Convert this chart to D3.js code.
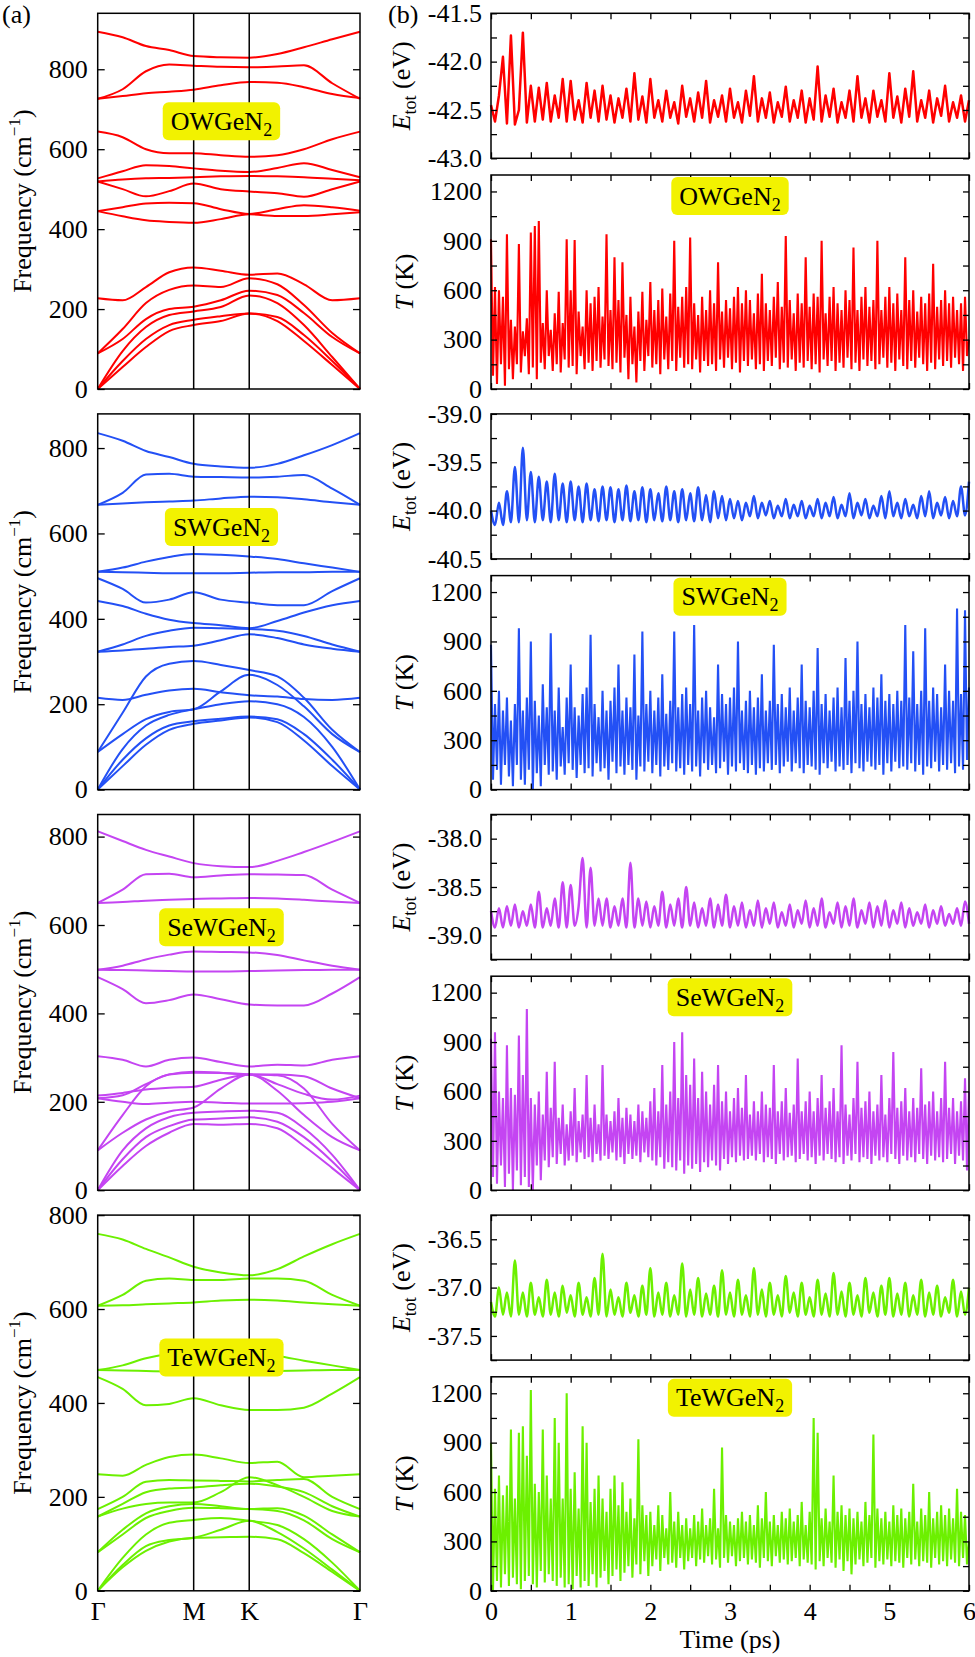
<!DOCTYPE html>
<html>
<head>
<meta charset="utf-8">
<script src="https://cdn.jsdelivr.net/npm/d3@7"></script>
<style>
  body { margin: 0; background: #fff; }
  svg { display: block; background: #fff; font-family: "Liberation Serif", "Times New Roman", Times, serif; }
</style>
</head>
<body>
<svg id="fig" width="975" height="1657"></svg>
<script>
// ============================================================
//  Phonon bands (a) and AIMD runs (b) for XWGeN2 monolayers
// ============================================================

// ---- materials ----
const materials = ['OWGeN', 'SWGeN', 'SeWGeN', 'TeWGeN'];
const colors = ['#ff0000', '#2350f5', '#c445f2', '#6cf000'];

// ---- (a) phonon dispersion, path Γ-M-K-Γ ----
const kNodes = [0, 0.577, 0.911, 1.577];
const kLabels = ['Γ', 'M', 'K', 'Γ'];
const kPath = [0, 0.15, 0.29, 0.43, 0.577, 0.74, 0.911, 1.08, 1.24, 1.41, 1.577];
const freqMax = [940, 880, 850, 800];
const freqTicks = [0, 200, 400, 600, 800];
const labelFreq = [670, 615, 595, 497];   // where the name tag sits

const bandsOW = [
  [894, 880, 858, 848, 833, 830, 829, 838, 855, 875, 894],
  [726, 750, 795, 812, 809, 806, 805, 807, 810, 765, 726],
  [726, 733, 740, 744, 749, 760, 768, 766, 755, 738, 728],
  [644, 630, 600, 590, 590, 585, 581, 585, 600, 625, 644],
  [527, 545, 560, 558, 552, 546, 543, 553, 565, 548, 530],
  [519, 524, 527, 528, 530, 532, 533, 532, 530, 526, 522],
  [519, 500, 482, 495, 514, 500, 494, 490, 481, 500, 519],
  [445, 455, 464, 466, 465, 450, 438, 450, 460, 455, 446],
  [445, 432, 422, 418, 416, 425, 437, 433, 433, 437, 442],
  [227, 222, 255, 292, 304, 296, 286, 289, 262, 222, 227],
  [89, 150, 215, 248, 259, 255, 277, 262, 210, 140, 89],
  [89, 125, 175, 200, 206, 222, 246, 235, 190, 130, 89],
  [0, 95, 155, 185, 194, 205, 234, 215, 160, 80, 0],
  [0, 70, 125, 160, 173, 182, 189, 180, 135, 70, 0],
  [0, 55, 105, 145, 160, 170, 189, 170, 120, 60, 0]
];
const bandsSW = [
  [835, 817, 793, 779, 763, 757, 754, 763, 783, 807, 835],
  [667, 695, 738, 740, 733, 732, 731, 733, 737, 705, 667],
  [667, 670, 673, 675, 677, 682, 686, 685, 680, 673, 667],
  [510, 520, 534, 545, 552, 550, 546, 540, 530, 520, 510],
  [510, 509, 508, 507, 507, 507, 508, 509, 509, 510, 510],
  [495, 470, 438, 445, 462, 445, 438, 432, 432, 465, 495],
  [442, 430, 412, 398, 390, 385, 378, 395, 415, 432, 442],
  [323, 340, 360, 372, 379, 378, 376, 372, 360, 340, 323],
  [323, 326, 330, 334, 337, 350, 364, 355, 340, 330, 323],
  [88, 180, 265, 295, 301, 292, 280, 265, 215, 140, 88],
  [215, 210, 222, 232, 236, 228, 221, 218, 212, 210, 215],
  [88, 130, 165, 182, 188, 230, 269, 245, 195, 130, 88],
  [0, 95, 150, 175, 188, 200, 207, 200, 170, 100, 0],
  [0, 70, 120, 150, 160, 166, 171, 165, 130, 70, 0],
  [0, 55, 105, 140, 154, 162, 169, 158, 115, 55, 0]
];
const bandsSeW = [
  [812, 790, 770, 755, 740, 733, 731, 745, 765, 788, 812],
  [650, 680, 715, 716, 708, 712, 715, 714, 713, 680, 650],
  [650, 652, 655, 657, 659, 660, 661, 660, 657, 653, 650],
  [499, 508, 522, 533, 540, 539, 538, 532, 520, 508, 499],
  [499, 498, 497, 496, 495, 495, 496, 497, 498, 499, 499],
  [482, 455, 423, 430, 443, 432, 420, 418, 418, 445, 482],
  [303, 295, 280, 295, 300, 290, 280, 284, 282, 295, 303],
  [208, 215, 240, 262, 266, 265, 262, 262, 258, 230, 208],
  [90, 170, 235, 262, 268, 266, 262, 260, 230, 150, 90],
  [214, 220, 228, 232, 234, 250, 262, 240, 218, 205, 214],
  [208, 200, 195, 198, 200, 198, 196, 196, 197, 200, 208],
  [90, 130, 160, 178, 187, 230, 262, 225, 170, 120, 90],
  [0, 90, 140, 165, 175, 178, 180, 175, 140, 80, 0],
  [0, 70, 120, 145, 160, 162, 165, 155, 120, 65, 0],
  [0, 55, 100, 130, 150, 148, 150, 140, 100, 50, 0]
];
const bandsTeW = [
  [760, 748, 728, 710, 690, 678, 672, 685, 712, 738, 760],
  [607, 630, 660, 665, 662, 662, 665, 665, 660, 630, 607],
  [607, 608, 610, 612, 614, 618, 620, 618, 614, 610, 607],
  [470, 480, 495, 505, 510, 508, 505, 500, 490, 480, 470],
  [470, 469, 468, 467, 466, 466, 467, 468, 469, 470, 470],
  [455, 430, 395, 398, 410, 395, 385, 385, 390, 420, 455],
  [248, 245, 268, 285, 290, 282, 272, 275, 242, 245, 248],
  [174, 200, 232, 236, 235, 234, 233, 236, 238, 200, 174],
  [158, 185, 210, 218, 220, 225, 228, 222, 210, 180, 158],
  [158, 175, 185, 188, 188, 210, 242, 225, 200, 170, 158],
  [82, 130, 165, 180, 185, 180, 174, 176, 160, 120, 82],
  [82, 120, 155, 170, 177, 176, 174, 170, 150, 110, 82],
  [0, 70, 120, 145, 151, 155, 149, 140, 110, 60, 0],
  [0, 55, 95, 108, 113, 130, 149, 125, 90, 45, 0],
  [0, 50, 85, 105, 113, 114, 115, 110, 80, 40, 0]
];
const bands = [bandsOW, bandsSW, bandsSeW, bandsTeW];

// ---- (b) AIMD: total energy (eV, every 0.05 ps) ----
const eStep = 0.05;
const eDomains = [[-43.0, -41.5], [-40.5, -39.0], [-39.25, -37.75], [-37.75, -36.25]];
const eMajorTicks = [[-43.0, -42.5, -42.0, -41.5], [-40.5, -40.0, -39.5, -39.0], [-39.0, -38.5, -38.0], [-37.5, -37.0, -36.5]];

const energyOW = [
  -42.45, -42.62, -42.35, -41.95, -42.64, -41.73, -42.65, -42.50, -41.70, -42.63,
  -42.25, -42.62, -42.27, -42.60, -42.22, -42.62, -42.35, -42.58, -42.18, -42.62,
  -42.20, -42.60, -42.40, -42.63, -42.22, -42.58, -42.30, -42.62, -42.25, -42.60,
  -42.35, -42.63, -42.38, -42.58, -42.28, -42.62, -42.12, -42.60, -42.36, -42.63,
  -42.18, -42.58, -42.40, -42.62, -42.30, -42.58, -42.42, -42.64, -42.25, -42.57,
  -42.38, -42.62, -42.32, -42.58, -42.20, -42.63, -42.40, -42.57, -42.35, -42.62,
  -42.28, -42.58, -42.42, -42.63, -42.30, -42.56, -42.15, -42.62, -42.38, -42.58,
  -42.32, -42.63, -42.42, -42.57, -42.26, -42.62, -42.40, -42.58, -42.30, -42.63,
  -42.38, -42.60, -42.05, -42.62, -42.35, -42.57, -42.28, -42.63, -42.42, -42.58,
  -42.30, -42.62, -42.15, -42.58, -42.38, -42.63, -42.30, -42.57, -42.40, -42.62,
  -42.12, -42.58, -42.36, -42.63, -42.28, -42.57, -42.10, -42.62, -42.40, -42.58,
  -42.30, -42.63, -42.38, -42.56, -42.25, -42.62, -42.42, -42.58, -42.35, -42.62,
  -42.40
];
const energySW = [
  -40.00, -40.15, -39.92, -40.15, -39.80, -40.12, -39.55, -40.12, -39.35, -40.10,
  -39.60, -40.12, -39.65, -40.10, -39.70, -40.12, -39.62, -40.10, -39.72, -40.12,
  -39.70, -40.10, -39.75, -40.12, -39.72, -40.10, -39.78, -40.11, -39.75, -40.10,
  -39.76, -40.12, -39.78, -40.10, -39.74, -40.11, -39.80, -40.10, -39.76, -40.12,
  -39.78, -40.10, -39.82, -40.11, -39.75, -40.10, -39.80, -40.12, -39.78, -40.10,
  -39.82, -40.11, -39.76, -40.10, -39.84, -40.12, -39.80, -40.08, -39.85, -40.10,
  -39.88, -40.08, -39.90, -40.10, -39.92, -40.06, -39.85, -40.08, -39.92, -40.05,
  -39.90, -40.08, -39.95, -40.06, -39.88, -40.08, -39.94, -40.06, -39.90, -40.08,
  -39.95, -40.06, -39.88, -40.08, -39.92, -40.06, -39.86, -40.08, -39.94, -40.06,
  -39.82, -40.08, -39.92, -40.05, -39.88, -40.08, -39.95, -40.06, -39.85, -40.08,
  -39.80, -40.06, -39.92, -40.08, -39.88, -40.06, -39.94, -40.08, -39.85, -40.06,
  -39.80, -40.08, -39.92, -40.05, -39.86, -40.08, -39.90, -40.06, -39.75, -40.05,
  -39.70
];
const energySeW = [
  -38.75, -38.92, -38.72, -38.92, -38.70, -38.90, -38.68, -38.92, -38.75, -38.90,
  -38.68, -38.92, -38.55, -38.92, -38.72, -38.90, -38.62, -38.92, -38.45, -38.92,
  -38.48, -38.90, -38.70, -38.20, -38.92, -38.30, -38.90, -38.62, -38.90, -38.62,
  -38.92, -38.70, -38.90, -38.62, -38.92, -38.25, -38.92, -38.62, -38.90, -38.65,
  -38.92, -38.70, -38.90, -38.55, -38.92, -38.68, -38.90, -38.62, -38.92, -38.50,
  -38.90, -38.66, -38.92, -38.72, -38.90, -38.62, -38.92, -38.68, -38.90, -38.58,
  -38.92, -38.70, -38.90, -38.66, -38.92, -38.74, -38.90, -38.64, -38.92, -38.72,
  -38.88, -38.66, -38.92, -38.76, -38.90, -38.68, -38.92, -38.74, -38.88, -38.64,
  -38.92, -38.72, -38.90, -38.62, -38.92, -38.76, -38.88, -38.66, -38.92, -38.70,
  -38.90, -38.62, -38.92, -38.74, -38.88, -38.66, -38.92, -38.70, -38.90, -38.64,
  -38.92, -38.74, -38.88, -38.66, -38.92, -38.72, -38.90, -38.76, -38.88, -38.68,
  -38.92, -38.74, -38.88, -38.70, -38.90, -38.78, -38.88, -38.72, -38.90, -38.65,
  -38.88
];
const energyTeW = [
  -37.15, -37.30, -37.00, -37.28, -37.05, -37.30, -36.72, -37.28, -37.05, -37.30,
  -36.95, -37.28, -37.10, -37.30, -36.92, -37.28, -37.05, -37.30, -36.98, -37.26,
  -37.08, -37.30, -36.95, -37.28, -37.10, -37.30, -36.90, -37.28, -36.65, -37.30,
  -37.02, -37.28, -37.10, -37.30, -36.95, -37.26, -37.08, -37.30, -36.98, -37.28,
  -36.80, -37.30, -37.05, -37.28, -36.95, -37.30, -37.08, -37.28, -36.75, -37.30,
  -37.02, -37.28, -36.90, -37.30, -37.06, -37.28, -36.98, -37.30, -36.82, -37.28,
  -37.05, -37.30, -36.92, -37.28, -37.08, -37.30, -36.80, -37.28, -37.02, -37.30,
  -36.95, -37.28, -37.08, -37.30, -36.88, -37.26, -37.05, -37.30, -36.95, -37.28,
  -37.10, -37.30, -36.92, -37.28, -37.06, -37.30, -36.85, -37.28, -37.04, -37.30,
  -36.95, -37.28, -37.08, -37.30, -36.90, -37.26, -37.05, -37.30, -36.98, -37.28,
  -36.90, -37.30, -37.06, -37.28, -36.95, -37.30, -37.08, -37.28, -36.92, -37.30,
  -37.05, -37.28, -36.98, -37.30, -37.10, -37.26, -36.92, -37.30, -37.04, -37.28,
  -37.00
];
const energies = [energyOW, energySW, energySeW, energyTeW];

// ---- (b) AIMD: temperature (K, every 0.025 ps) ----
const tStep = 0.025;
const tempMax = 1300;
const tempTicks = [0, 300, 600, 900, 1200];
const timeTicks = [0, 1, 2, 3, 4, 5, 6];
const labelTemp = 1172;

const tempOW = [
  910, 80, 620, 30, 600, 150, 560, 20, 940, 120,
  420, 60, 380, 150, 880, 100, 350, 200, 430, 90,
  950, 130, 990, 60, 1020, 160, 400, 120, 600, 200,
  360, 110, 460, 150, 590, 100, 400, 180, 910, 130,
  600, 140, 905, 90, 470, 200, 380, 120, 600, 160,
  520, 110, 560, 170, 620, 130, 440, 180, 940, 140,
  480, 120, 800, 160, 540, 100, 770, 190, 450, 60,
  560, 150, 380, 40, 470, 170, 590, 110, 420, 200,
  650, 130, 480, 150, 540, 90, 610, 180, 440, 120,
  580, 170, 900, 110, 500, 190, 560, 130, 620, 150,
  920, 120, 520, 180, 450, 100, 560, 170, 480, 140,
  600, 150, 520, 110, 770, 180, 470, 130, 540, 190,
  490, 120, 560, 160, 620, 100, 520, 170, 600, 140,
  540, 180, 460, 120, 580, 150, 700, 110, 520, 170,
  480, 140, 560, 190, 650, 120, 500, 160, 930, 130,
  540, 180, 460, 110, 580, 160, 520, 130, 800, 170,
  500, 120, 580, 150, 560, 100, 900, 180, 460, 140,
  560, 170, 620, 110, 520, 160, 480, 130, 600, 190,
  540, 120, 860, 160, 480, 110, 560, 180, 620, 140,
  500, 170, 540, 120, 900, 150, 480, 190, 560, 130,
  620, 160, 520, 110, 580, 180, 480, 140, 800, 120,
  540, 170, 600, 130, 470, 190, 560, 150, 520, 110,
  580, 160, 760, 120, 500, 180, 540, 140, 600, 170,
  520, 130, 560, 190, 480, 150, 520, 110, 560, 200,
  300
];
const tempSW = [
  880, 60, 520, 120, 600, 30, 480, 150, 560, 80,
  420, 20, 520, 150, 980, 60, 480, 30, 560, 120,
  900, 0, 540, 100, 450, 20, 640, 150, 500, 90,
  950, 110, 480, 60, 620, 140, 380, 90, 560, 160,
  760, 120, 500, 70, 450, 150, 580, 100, 620, 130,
  940, 80, 520, 160, 440, 110, 600, 130, 480, 60,
  540, 170, 620, 100, 760, 140, 480, 90, 560, 150,
  500, 120, 820, 60, 450, 140, 960, 110, 520, 170,
  600, 100, 480, 150, 560, 80, 700, 140, 460, 120,
  540, 160, 960, 110, 500, 130, 580, 90, 620, 150,
  520, 110, 1000, 140, 480, 80, 560, 160, 600, 120,
  500, 150, 440, 100, 760, 130, 580, 170, 520, 90,
  560, 140, 620, 110, 900, 160, 480, 120, 540, 100,
  600, 150, 500, 90, 560, 130, 700, 110, 480, 160,
  540, 120, 880, 150, 520, 100, 580, 140, 500, 170,
  620, 110, 480, 160, 560, 130, 760, 100, 540, 150,
  500, 140, 600, 120, 860, 90, 520, 160, 580, 130,
  480, 170, 560, 110, 620, 140, 500, 120, 800, 150,
  540, 100, 600, 160, 900, 130, 520, 110, 580, 170,
  500, 140, 620, 120, 560, 150, 700, 90, 540, 160,
  580, 110, 520, 170, 600, 130, 540, 140, 1000, 120,
  560, 160, 840, 110, 520, 150, 600, 90, 980, 140,
  540, 130, 620, 170, 580, 110, 500, 150, 760, 120,
  600, 160, 540, 100, 1100, 140, 580, 120, 1090, 180,
  620
];
const tempSeW = [
  920, 80, 960, 40, 600, 150, 560, 20, 880, 100,
  620, 0, 580, 120, 940, 30, 700, 80, 1100, 20,
  560, 0, 520, 150, 600, 60, 460, 180, 720, 140,
  500, 200, 780, 160, 440, 220, 520, 150, 400, 180,
  480, 210, 620, 170, 420, 230, 460, 190, 700, 200,
  440, 170, 520, 220, 400, 180, 760, 210, 460, 190,
  420, 230, 480, 180, 560, 200, 440, 160, 500, 220,
  460, 190, 420, 210, 520, 170, 480, 230, 440, 200,
  540, 180, 620, 150, 480, 200, 760, 130, 520, 170,
  600, 140, 900, 120, 560, 180, 960, 100, 700, 150,
  640, 130, 800, 160, 560, 110, 720, 170, 600, 140,
  520, 180, 640, 150, 760, 120, 540, 190, 600, 160,
  480, 200, 560, 170, 620, 210, 500, 180, 700, 190,
  460, 210, 540, 180, 480, 220, 600, 170, 520, 200,
  500, 190, 760, 160, 480, 220, 540, 180, 620, 200,
  470, 210, 520, 170, 800, 190, 480, 220, 540, 180,
  600, 200, 480, 160, 560, 210, 700, 180, 500, 220,
  540, 190, 620, 170, 480, 200, 880, 160, 520, 210,
  460, 180, 560, 220, 780, 170, 500, 200, 540, 190,
  600, 160, 480, 210, 520, 180, 700, 200, 460, 170,
  560, 220, 840, 190, 500, 160, 540, 210, 620, 180,
  480, 200, 560, 170, 500, 220, 740, 190, 520, 160,
  540, 210, 600, 180, 480, 200, 560, 170, 780, 190,
  500, 220, 560, 160, 480, 210, 540, 180, 680, 120,
  600
];
const tempTeW = [
  900, 0, 620, 60, 700, 20, 580, 100, 640, 30,
  980, 80, 560, 40, 960, 10, 1000, 60, 820, 90,
  1220, 40, 650, 20, 600, 120, 980, 50, 700, 100,
  560, 60, 1050, 30, 900, 80, 560, 20, 1200, 40,
  620, 10, 720, 90, 500, 20, 1000, 60, 900, 30,
  540, 100, 620, 20, 700, 80, 560, 120, 480, 40,
  620, 90, 700, 130, 520, 60, 660, 110, 480, 150,
  560, 80, 440, 160, 920, 100, 520, 180, 460, 90,
  480, 150, 400, 190, 520, 120, 460, 200, 380, 160,
  600, 170, 420, 140, 480, 200, 400, 130, 440, 180,
  380, 200, 460, 150, 420, 190, 500, 170, 400, 210,
  440, 160, 620, 190, 380, 140, 870, 200, 460, 170,
  420, 210, 400, 150, 440, 180, 480, 200, 420, 160,
  460, 190, 400, 170, 520, 140, 440, 200, 600, 180,
  420, 150, 460, 210, 400, 170, 480, 190, 440, 160,
  500, 180, 420, 200, 460, 150, 540, 190, 400, 170,
  480, 160, 1050, 130, 960, 180, 440, 150, 500, 200,
  420, 170, 700, 140, 480, 190, 520, 120, 460, 180,
  500, 100, 440, 160, 480, 190, 420, 150, 540, 170,
  460, 200, 950, 140, 500, 180, 440, 160, 480, 190,
  420, 150, 520, 180, 460, 170, 500, 140, 440, 200,
  480, 160, 650, 190, 420, 150, 500, 180, 460, 170,
  600, 140, 440, 200, 480, 160, 520, 180, 460, 150,
  500, 190, 440, 170, 620, 150, 480, 200, 460, 160,
  300
];
const temps = [tempOW, tempSW, tempSeW, tempTeW];

// ============================================================
//  Layout
// ============================================================
const FONT = '"Liberation Serif", "Times New Roman", Times, serif';
const FS = 26;
const LX = [97.7, 360];          // band panels
const RX = [491, 969];           // AIMD panels
const ROW0 = 13.3, ROW_PITCH = 400.6, ROW_H = 375.7;
const E_H = 145, T_OFF = 161.7;

const svg = d3.select('#fig');
const kx = d3.scaleLinear().domain([kNodes[0], kNodes[3]]).range(LX);
const tx = d3.scaleLinear().domain([0, 6]).range(RX);

function styleAxis(g) {
  g.attr('font-family', FONT).attr('font-size', FS);
  g.select('.domain').remove();
  g.selectAll('.tick line').attr('stroke-width', 1.3);
}

function frame(x0, x1, y0, y1) {
  svg.append('rect')
    .attr('x', x0).attr('y', y0)
    .attr('width', x1 - x0).attr('height', y1 - y0)
    .attr('fill', 'none').attr('stroke', '#000').attr('stroke-width', 1.5);
}

function nameTag(cx, cy, name) {
  const g = svg.append('g');
  const rect = g.append('rect').attr('fill', '#f2f200').attr('rx', 6).attr('ry', 6);
  const text = g.append('text')
    .attr('x', cx).attr('y', cy + 8.5)
    .attr('text-anchor', 'middle')
    .attr('font-family', FONT).attr('font-size', FS);
  text.append('tspan').text(name);
  text.append('tspan').attr('font-size', 18).attr('dy', 6).text('2');
  const bb = text.node().getBBox();
  rect.attr('x', cx - bb.width / 2 - 8).attr('width', bb.width + 16)
    .attr('y', cy - 19).attr('height', 38);
}

function timeAxes(yTop, yBottom, withLabels) {
  const vals = d3.range(0, 6.001, 0.5);
  svg.append('g').attr('transform', `translate(0,${yTop})`)
    .call(d3.axisTop(tx).tickValues(vals).tickSize(-6).tickFormat(''))
    .call(styleAxis);
  svg.append('g').attr('transform', `translate(0,${yBottom})`)
    .call(d3.axisBottom(tx).tickValues(vals).tickSize(-6).tickPadding(10.5)
      .tickFormat(d => withLabels && timeTicks.includes(d) ? d : ''))
    .call(styleAxis);
}

materials.forEach((name, i) => {
  const top = ROW0 + i * ROW_PITCH;
  const bottom = top + ROW_H;
  const color = colors[i];

  // ---------------- (a) phonon bands ----------------
  const fy = d3.scaleLinear().domain([0, freqMax[i]]).range([bottom, top]);
  const band = d3.line()
    .x((d, j) => kx(kPath[j]))
    .y(d => fy(d))
    .curve(d3.curveMonotoneX);

  svg.append('g').selectAll('path')
    .data(bands[i])
    .join('path')
    .attr('d', band)
    .attr('fill', 'none')
    .attr('stroke', color)
    .attr('stroke-width', 2);

  svg.append('g').selectAll('line')
    .data(kNodes.slice(1, 3))
    .join('line')
    .attr('x1', d => kx(d)).attr('x2', d => kx(d))
    .attr('y1', top).attr('y2', bottom)
    .attr('stroke', '#000').attr('stroke-width', 1.5);

  frame(LX[0], LX[1], top, bottom);

  const fTicks = freqTicks.filter(v => v <= freqMax[i]);
  svg.append('g').attr('transform', `translate(${LX[0]},0)`)
    .call(d3.axisLeft(fy).tickValues(fTicks).tickSize(-7).tickPadding(10).tickFormat(d3.format('d')))
    .call(styleAxis);
  svg.append('g').attr('transform', `translate(${LX[1]},0)`)
    .call(d3.axisRight(fy).tickValues(fTicks).tickSize(-7).tickFormat(''))
    .call(styleAxis);

  const fl = svg.append('text')
    .attr('transform', `translate(31,${(top + bottom) / 2}) rotate(-90)`)
    .attr('text-anchor', 'middle')
    .attr('font-family', FONT).attr('font-size', FS);
  fl.append('tspan').text('Frequency (cm');
  fl.append('tspan').attr('font-size', 17).attr('dy', -11).text('−1');
  fl.append('tspan').attr('dy', 11).text(')');

  if (i === materials.length - 1) {
    svg.append('g').attr('transform', `translate(0,${bottom})`)
      .call(d3.axisBottom(kx).tickValues(kNodes).tickSize(0).tickPadding(11)
        .tickFormat((d, j) => kLabels[j]))
      .call(styleAxis);
  }

  nameTag((kx(kNodes[1]) + kx(kNodes[2])) / 2, fy(labelFreq[i]), name);

  // ---------------- (b) total energy ----------------
  const eTop = top, eBottom = top + E_H;
  const ey = d3.scaleLinear().domain(eDomains[i]).range([eBottom, eTop]);
  const eLine = d3.line()
    .x((d, j) => tx(j * eStep))
    .y(d => ey(d))
    .curve(i === 0 ? d3.curveLinear : d3.curveMonotoneX);

  svg.append('path')
    .datum(energies[i])
    .attr('d', eLine)
    .attr('fill', 'none')
    .attr('stroke', color)
    .attr('stroke-width', 2.5)
    .attr('stroke-linejoin', 'round');

  frame(RX[0], RX[1], eTop, eBottom);
  const eVals = d3.range(eDomains[i][0], eDomains[i][1] + 1e-6, 0.25);
  const isMajor = v => eMajorTicks[i].some(m => Math.abs(m - v) < 1e-6);
  svg.append('g').attr('transform', `translate(${RX[0]},0)`)
    .call(d3.axisLeft(ey).tickValues(eVals).tickSize(-6).tickPadding(9)
      .tickFormat(v => isMajor(v) ? v.toFixed(1) : ''))
    .call(styleAxis);
  svg.append('g').attr('transform', `translate(${RX[1]},0)`)
    .call(d3.axisRight(ey).tickValues(eVals).tickSize(-6).tickFormat(''))
    .call(styleAxis);
  timeAxes(eTop, eBottom, false);

  const el = svg.append('text')
    .attr('transform', `translate(410,${(eTop + eBottom) / 2}) rotate(-90)`)
    .attr('text-anchor', 'middle')
    .attr('font-family', FONT).attr('font-size', FS);
  el.append('tspan').attr('font-style', 'italic').text('E');
  el.append('tspan').attr('font-size', 18).attr('dy', 6).text('tot');
  el.append('tspan').attr('dy', -6).text(' (eV)');

  // ---------------- (b) temperature ----------------
  const tTop = top + T_OFF, tBottom = bottom;
  const ty = d3.scaleLinear().domain([0, tempMax]).range([tBottom, tTop]);
  const tLine = d3.line()
    .x((d, j) => tx(j * tStep))
    .y(d => ty(d));

  svg.append('path')
    .datum(temps[i])
    .attr('d', tLine)
    .attr('fill', 'none')
    .attr('stroke', color)
    .attr('stroke-width', 2.1)
    .attr('stroke-linejoin', 'miter')
    .attr('stroke-miterlimit', 3);

  frame(RX[0], RX[1], tTop, tBottom);
  const tVals = d3.range(0, tempMax + 1, 150);
  svg.append('g').attr('transform', `translate(${RX[0]},0)`)
    .call(d3.axisLeft(ty).tickValues(tVals).tickSize(-6).tickPadding(9)
      .tickFormat(v => tempTicks.includes(v) ? v : ''))
    .call(styleAxis);
  svg.append('g').attr('transform', `translate(${RX[1]},0)`)
    .call(d3.axisRight(ty).tickValues(tVals).tickSize(-6).tickFormat(''))
    .call(styleAxis);
  timeAxes(tTop, tBottom, i === materials.length - 1);

  const tl = svg.append('text')
    .attr('transform', `translate(413,${(tTop + tBottom) / 2}) rotate(-90)`)
    .attr('text-anchor', 'middle')
    .attr('font-family', FONT).attr('font-size', FS);
  tl.append('tspan').attr('font-style', 'italic').text('T');
  tl.append('tspan').text(' (K)');

  nameTag(tx(3), ty(labelTemp), name);
});

// panel letters and the time axis title
svg.append('text').attr('x', 2).attr('y', 23)
  .attr('font-family', FONT).attr('font-size', FS).text('(a)');
svg.append('text').attr('x', 388).attr('y', 23)
  .attr('font-family', FONT).attr('font-size', FS).text('(b)');
svg.append('text').attr('x', (RX[0] + RX[1]) / 2).attr('y', 1648)
  .attr('text-anchor', 'middle')
  .attr('font-family', FONT).attr('font-size', FS).text('Time (ps)');
</script>
</body>
</html>
